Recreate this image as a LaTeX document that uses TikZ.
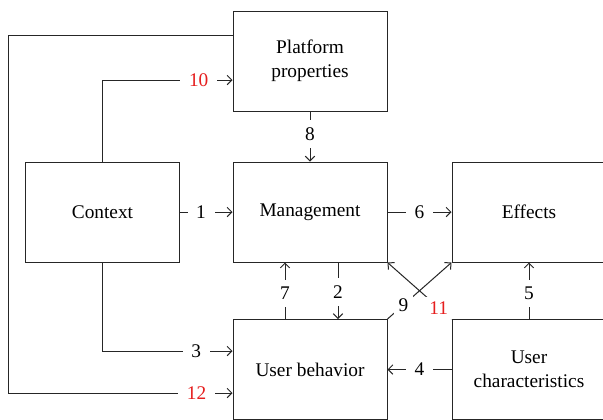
\documentclass[tikz,border=0pt]{standalone}
\usepackage{fontspec}
\setmainfont{Liberation Serif}
\usetikzlibrary{arrows.meta}
\begin{document}
\begin{tikzpicture}[x=0.75pt,y=-0.75pt,
  font=\fontsize{14.5}{18}\selectfont,
  box/.style={draw=black!85, line width=0.75pt, minimum width=115.5pt, minimum height=75pt, align=center, inner sep=0pt},
  conn/.style={draw=black!85, line width=0.75pt, -{Straight Barb[length=3.5pt,width=7pt]}},
  lab/.style={fill=white, inner xsep=6.5pt, inner ysep=5.5pt},
  dlab/.style={fill=white, inner sep=3.5pt},
  redtext/.style={text={rgb,255:red,230;green,30;blue,30}}]
\clip (0,0) rectangle (603,419);
\useasboundingbox (0,0) rectangle (603,419);
\fill[white] (0,0) rectangle (603,419);
\node[box] (plat) at (310,61) {Platform\\properties};
\node[box] (ctx) at (102.5,212) {Context};
\node[box] (mgmt) at (310,212) {Management};
\node[box] (eff) at (529,212) {Effects};
\node[box] (ub) at (310,369.5) {User behavior};
\node[box] (uc) at (529,369.5) {User\\characteristics};
\coordinate (y10) at (0,80);
\coordinate (y3) at (0,351);
\coordinate (y12) at (0,393);
\coordinate (y35) at (0,35);
\coordinate (lx) at (8,0);
\coordinate (x7) at (285,0);
\coordinate (x2) at (338,0);
% 1
\draw[conn] (ctx) -- node[lab, pos=0.4] {1} (mgmt);
% 6
\draw[conn] (mgmt) -- node[lab] {6} (eff);
% 8
\draw[conn] (plat) -- node[lab, pos=0.45] {8} (mgmt);
% 7
\draw[conn] (ub.north -| x7) -- node[lab, pos=0.45] {7} (mgmt.south -| x7);
% 2
\draw[conn] (mgmt.south -| x2) -- node[lab, pos=0.52] {2} (ub.north -| x2);
% 4
\draw[conn] (uc) -- node[lab] {4} (ub);
% 5
\draw[conn] (uc.north) -- node[lab, pos=0.45] {5} (eff.south);
% 10
\draw[conn] (ctx.north) |- node[lab, redtext, pos=0.87] {10} (plat.west |- y10);
% 3
\draw[conn] (ctx.south) |- node[lab, pos=0.86] {3} (ub.west |- y3);
% 12
\draw[conn] (plat.west |- y35) -| (lx |- y12) -- node[lab, redtext, pos=0.84] {12} (ub.west |- y12);
% 9 and 11
\draw[conn] (ub.north east) -- node[dlab, pos=0.25] {9} (eff.south west);
\draw[conn] (uc.north west) -- node[dlab, redtext, pos=0.2] {11} (mgmt.south east);
\end{tikzpicture}
\end{document}
